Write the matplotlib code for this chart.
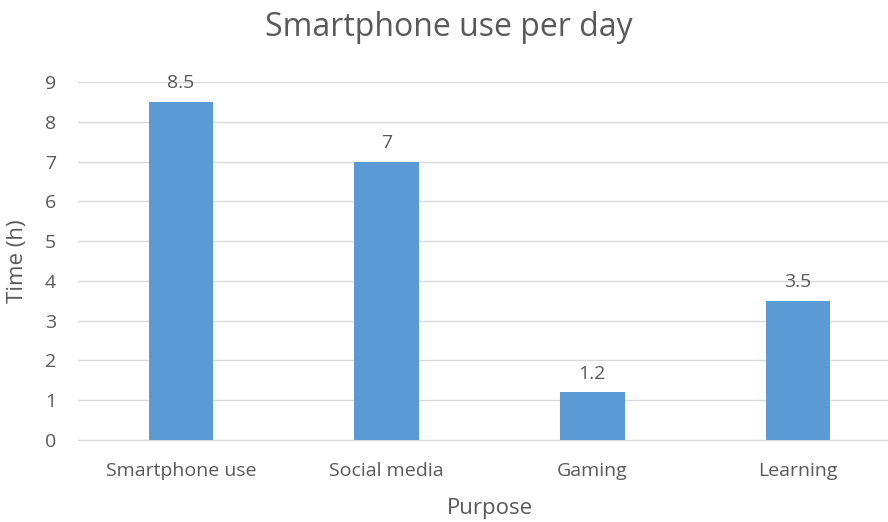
import matplotlib.pyplot as plt

categories = ["Smartphone use", "Social media", "Gaming", "Learning"]
hours = [8.5, 7, 1.2, 3.5]

plt.rcParams['font.family'] = ['Open Sans', 'DejaVu Sans']
text_col = "#595959"

fig = plt.figure(figsize=(8.88, 5.22), dpi=100)
ax = fig.add_axes([78.2 / 888, 1 - 440 / 522, (900.8 - 78.2) / 888, (440 - 82) / 522])

x = range(len(categories))
bars = ax.bar(x, hours, width=0.315, color="#5B9BD5", zorder=3)
for xi, h in zip(x, hours):
    ax.annotate(f"{h:g}", (xi, h), xytext=(0, 7), textcoords="offset points",
                ha="center", va="bottom", fontsize=14, color=text_col)

ax.set_xlim(-0.5, 3.5)
ax.set_ylim(0, 9)
ax.set_yticks(range(10))
ax.set_xticks(list(x))
ax.set_xticklabels(categories)
ax.grid(axis="y", color="#D9D9D9", linewidth=1, zorder=0)
for s in ["top", "right", "left"]:
    ax.spines[s].set_visible(False)
ax.spines["bottom"].set_color("#D9D9D9")
ax.tick_params(length=0, labelsize=14, colors=text_col)
ax.tick_params(axis="x", pad=16)
ax.tick_params(axis="y", pad=16)

ax.set_ylabel("Time (h)", fontsize=16, color=text_col)
ax.yaxis.set_label_coords(-50 / (900.8 - 78.2), 0.5)
ax.set_xlabel("Purpose", fontsize=16, color=text_col, labelpad=13)
fig.text(449 / 888, 1 - 28 / 522, "Smartphone use per day", ha="center", va="center",
         fontsize=23, color=text_col)

fig.savefig("out.png", dpi=100)
